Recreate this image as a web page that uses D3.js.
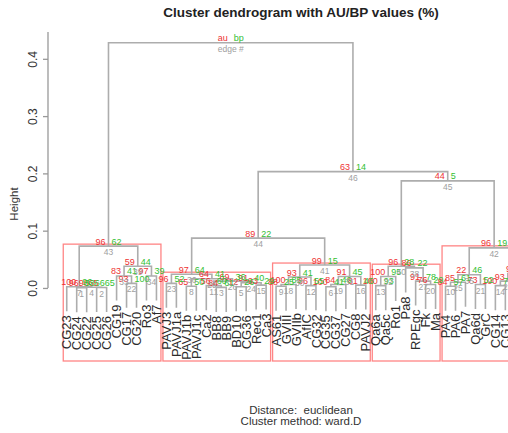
<!DOCTYPE html>
<html>
<head>
<meta charset="utf-8">
<script src="https://cdn.jsdelivr.net/npm/d3@7"></script>
<style>
  body { margin: 0; background: #fff; }
  svg { display: block; font-family: "Liberation Sans", Arial, sans-serif; }
</style>
</head>
<body>
<script>
// leaves in dendrogram order
const leaves = [
  "CG23", "CG24", "CG22", "CG25", "CG26", "CG19", "CG17", "CG20", "Ro3", "Af7",
  "PAVJ3", "PAVJ1a", "PAVJ1b", "PAVJ1c", "Ca2", "BB8", "BB9", "BD10", "CG36", "Rec1", "Ca3",
  "AS61", "GVIII", "GVIIb", "AfIC", "CG32", "CG35", "CG37", "CG27", "CG8", "PAVJ2",
  "Qa6a", "Qa5c", "Ro1", "Pa8", "RPEgc", "Fk", "Ma",
  "PA4", "PA6", "PA7", "Qa6d", "GrC", "CG14", "CG13", "CG12", "CG11", "CG10"
];

// merges: a leaf name, or the index of an earlier merge
const merges = [
  ["CG24", "CG22"], ["CG25", "CG26"], [0, 1], ["CG23", 2], ["CG17", "CG20"],
  ["CG19", 4], ["Ro3", "Af7"], [5, 6], [3, 7],
  ["PAVJ3", "PAVJ1a"], ["PAVJ1b", "PAVJ1c"], ["BB8", "BB9"], ["Ca2", 11], ["BD10", "CG36"],
  ["Rec1", "Ca3"], [13, 14], [12, 15], [10, 16], [9, 17],
  ["AS61", "GVIII"], [19, "GVIIb"], ["AfIC", "CG32"], [20, 21], ["CG35", "CG37"],
  [23, "CG27"], ["CG8", "PAVJ2"], [24, 25], [22, 26],
  ["Qa6a", "Qa5c"], [28, "Ro1"], ["Fk", "Ma"], ["RPEgc", 30], ["Pa8", 31], [29, 32],
  ["PA4", "PA6"], [34, "PA7"], ["Qa6d", "GrC"], [35, 36], ["CG14", "CG13"],
  [38, "CG12"], ["CG11", "CG10"], [39, 40], [37, 41],
  [18, 27], [33, 42], [43, 44], [8, 45]
];

const heights = [
  0.0004, 0.0007, 0.0012, 0.0022, 0.008, 0.021, 0.021, 0.038, 0.073,
  0.008, 0.003, 0.001, 0.004, 0.002, 0.005, 0.009, 0.012, 0.016, 0.024,
  0.003, 0.006, 0.004, 0.019, 0.002, 0.006, 0.005, 0.020, 0.040,
  0.004, 0.020, 0.006, 0.012, 0.035, 0.038,
  0.003, 0.010, 0.006, 0.023, 0.004, 0.012, 0.005, 0.025, 0.070,
  0.087, 0.187, 0.203, 0.428
];

const au = [
  96, 65, 98, 100, 93, 83, 97, 59, 96,
  96, 65, 84, 56, 12, 93, 91, 69, 64, 97,
  88, 100, 86, 93, 100, 84, 81, 91, 99,
  100, 100, 76, 91, 86, 96,
  84, 85, 73, 22, 100, 93, 88, 97, 96,
  89, 44, 63, null
];

const bp = [
  53, 65, 66, 96, 100, 41, 39, 44, 62,
  52, 50, 61, 60, 26, 29, 40, 36, 41, 64,
  25, 85, 55, 41, 41, 46, 46, 45, 15,
  93, 95, 29, 78, 22, 28,
  57, 61, 52, 46, 77, 54, 60, 44, 19,
  22, 5, 14, null
];

const yTicks = [0, 0.1, 0.2, 0.3, 0.4];
const alpha = 95;

const width = 508, height = 433;
const plot = {left: 48, right: 554, top: 32, bottom: 323};
const red = "#ee3333", green = "#33c033", grey = "#a0a0a0";

const n = leaves.length;
const root = merges.length - 1;
const hMax = d3.max(heights), hMin = d3.min(heights);
const hang = 0.1 * (hMax - hMin);

// parent height of every leaf, to hang it below its merge
const leafParentH = new Map();
merges.forEach((m, i) => m.forEach(c => { if (typeof c === "string") leafParentH.set(c, heights[i]); }));

const yLow = d3.min(leaves, d => leafParentH.get(d) - hang);
const yPad = 0.04 * (hMax - yLow);
const xPad = 0.04 * (n - 1);

const x = d3.scaleLinear().domain([1 - xPad, n + xPad]).range([plot.left, plot.right]);
const y = d3.scaleLinear().domain([yLow - yPad, hMax + yPad]).range([plot.bottom, plot.top]);

const leafX = new Map(leaves.map((d, i) => [d, x(i + 1)]));
const nodeX = [];
merges.forEach((m, i) => {
  nodeX[i] = d3.mean(m, c => typeof c === "string" ? leafX.get(c) : nodeX[c]);
});
const childX = c => typeof c === "string" ? leafX.get(c) : nodeX[c];
const childY = (c, h) => typeof c === "string" ? y(h - hang) : y(heights[c]);

// edge numbers follow the merge order by height
const edge = [];
d3.range(merges.length).sort((a, b) => heights[a] - heights[b]).forEach((i, r) => edge[i] = r + 1);

// members of each merge, for the boxes
const members = [];
merges.forEach((m, i) => {
  members[i] = m.flatMap(c => typeof c === "string" ? [leaves.indexOf(c)] : members[c]);
});
const parent = [];
merges.forEach((m, i) => m.forEach(c => { if (typeof c === "number") parent[c] = i; }));
const boxed = d3.range(merges.length).filter(i => {
  if (au[i] == null || au[i] < alpha) return false;
  for (let p = parent[i]; p != null; p = parent[p]) if (au[p] != null && au[p] >= alpha) return false;
  return true;
});

const svg = d3.select("body").append("svg")
    .attr("width", width)
    .attr("height", height);

// boxes
svg.append("g")
    .attr("fill", "none")
    .attr("stroke", "#ff8585")
    .attr("stroke-width", 1.3)
  .selectAll("rect")
  .data(boxed)
  .join("rect")
    .attr("x", i => x(d3.min(members[i]) + 1 - 0.35))
    .attr("width", i => x(d3.max(members[i]) + 1 + 0.45) - x(d3.min(members[i]) + 1 - 0.35))
    .attr("y", i => y(heights[i]) - 2)
    .attr("height", i => 361 - y(heights[i]) + 2);

// dendrogram
svg.append("g")
    .attr("fill", "none")
    .attr("stroke", "#adadad")
    .attr("stroke-width", 1.6)
  .selectAll("path")
  .data(merges)
  .join("path")
    .attr("d", (m, i) => {
      const h = heights[i];
      return `M${childX(m[0])},${childY(m[0], h)}V${y(h)}H${childX(m[1])}V${childY(m[1], h)}`;
    });

// leaf labels
svg.append("g")
    .attr("font-size", 13)
    .attr("fill", "#2b2b2b")
  .selectAll("text")
  .data(leaves)
  .join("text")
    .attr("transform", d => `translate(${leafX.get(d)},${y(leafParentH.get(d) - hang) + 4}) rotate(-90)`)
    .attr("dy", "0.35em")
    .attr("text-anchor", "end")
    .text(d => d);

// au / bp / edge labels
const pv = svg.append("g").attr("font-size", 9);
const inner = d3.range(merges.length).filter(i => i !== root);
pv.selectAll(".au").data(inner).join("text")
    .attr("x", i => nodeX[i] - 3).attr("y", i => y(heights[i]) - 1.5)
    .attr("text-anchor", "end").attr("fill", red).text(i => au[i]);
pv.selectAll(".bp").data(inner).join("text")
    .attr("x", i => nodeX[i] + 3).attr("y", i => y(heights[i]) - 1.5)
    .attr("fill", green).text(i => bp[i]);
pv.selectAll(".edge").data(inner).join("text")
    .attr("x", i => nodeX[i]).attr("y", i => y(heights[i]) + 9)
    .attr("text-anchor", "middle").attr("fill", grey).attr("font-size", 8.5).text(i => edge[i]);

// legend at the top merge
pv.append("text").attr("x", nodeX[root] - 3).attr("y", y(heights[root]) - 1.5)
    .attr("text-anchor", "end").attr("fill", red).text("au");
pv.append("text").attr("x", nodeX[root] + 3).attr("y", y(heights[root]) - 1.5)
    .attr("fill", green).text("bp");
pv.append("text").attr("x", nodeX[root]).attr("y", y(heights[root]) + 9)
    .attr("text-anchor", "middle").attr("fill", grey).attr("font-size", 8.5).text("edge #");

// y axis
const axis = svg.append("g")
    .attr("transform", `translate(${plot.left},0)`)
    .call(d3.axisLeft(y).tickValues(yTicks).tickSize(5).tickFormat(d3.format(".1f")));
axis.select(".domain").remove();
axis.append("line")
    .attr("y1", y(0)).attr("y2", plot.top)
    .attr("stroke", "#999").attr("stroke-width", 1.3);
axis.selectAll(".tick line").attr("stroke", "#999").attr("stroke-width", 1.3);
axis.selectAll(".tick text")
    .attr("transform", "rotate(-90)")
    .attr("x", 0).attr("y", -11).attr("dy", 0)
    .attr("text-anchor", "middle")
    .attr("font-size", 12)
    .attr("font-family", "Liberation Sans, Arial, sans-serif")
    .attr("fill", "#333");

svg.append("text")
    .attr("transform", "translate(18,204) rotate(-90)")
    .attr("text-anchor", "middle")
    .attr("font-size", 11.5)
    .attr("fill", "#333")
    .text("Height");

// titles
const cx = (plot.left + plot.right) / 2;
svg.append("text")
    .attr("x", cx).attr("y", 17)
    .attr("text-anchor", "middle")
    .attr("font-size", 13.5).attr("font-weight", "bold")
    .attr("fill", "#222")
    .text("Cluster dendrogram with AU/BP values (%)");
svg.append("text")
    .attr("x", cx).attr("y", 414)
    .attr("text-anchor", "middle").attr("font-size", 11.5).attr("fill", "#333")
    .attr("xml:space", "preserve")
    .text("Distance:  euclidean");
svg.append("text")
    .attr("x", cx).attr("y", 425)
    .attr("text-anchor", "middle").attr("font-size", 11.5).attr("fill", "#333")
    .text("Cluster method: ward.D");
</script>
</body>
</html>
